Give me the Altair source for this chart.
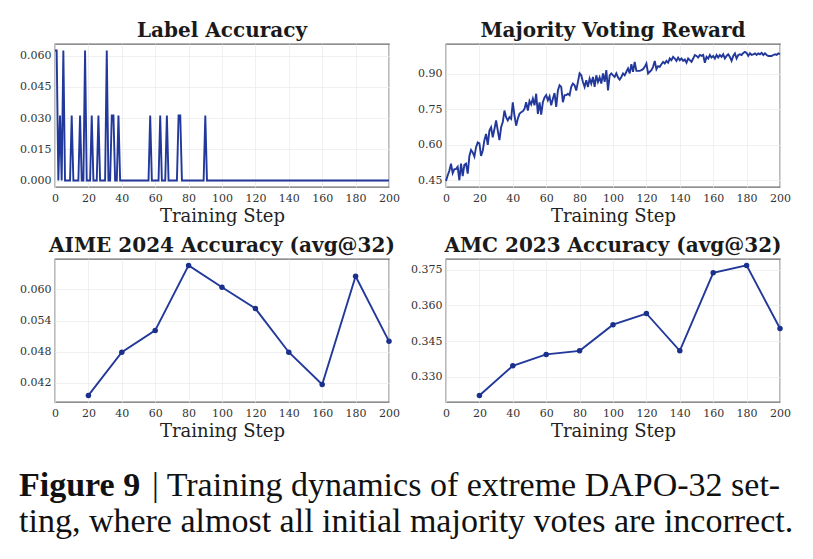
import altair as alt
import pandas as pd

# ---- data ----
# Label accuracy: non-zero steps and their values (all other steps are 0)
label_steps_nonzero = [0, 1, 3, 5, 10, 15, 18, 22, 26, 31, 34, 35, 38, 57, 63, 67, 74, 75, 90]
label_values_nonzero = [0.0625, 0.0625, 0.03125, 0.0625, 0.03125, 0.03125, 0.0625, 0.03125,
                        0.03125, 0.0625, 0.03125, 0.03125, 0.03125, 0.03125, 0.03125,
                        0.03125, 0.03125, 0.03125, 0.03125]

# Majority voting reward, steps 0..200
reward_values = [
    0.447, 0.470, 0.490, 0.520, 0.480, 0.497, 0.497, 0.507, 0.450, 0.520,
    0.468, 0.515, 0.520, 0.478, 0.553, 0.578, 0.568, 0.550, 0.590, 0.610,
    0.606, 0.553, 0.575, 0.620, 0.646, 0.600, 0.660, 0.674, 0.632, 0.667,
    0.703, 0.660, 0.620, 0.674, 0.696, 0.745, 0.717, 0.703, 0.717, 0.710,
    0.780, 0.724, 0.681, 0.710, 0.731, 0.738, 0.742, 0.752, 0.780, 0.745,
    0.785, 0.771, 0.795, 0.767, 0.816, 0.731, 0.780, 0.728, 0.780, 0.800,
    0.810, 0.788, 0.805, 0.767, 0.795, 0.819, 0.760, 0.830, 0.852, 0.845,
    0.780, 0.810, 0.810, 0.816, 0.810, 0.845, 0.859, 0.852, 0.830, 0.866,
    0.902, 0.894, 0.866, 0.845, 0.873, 0.845, 0.880, 0.859, 0.887, 0.845,
    0.894, 0.866, 0.885, 0.859, 0.902, 0.866, 0.916, 0.830, 0.894, 0.902,
    0.894, 0.887, 0.902, 0.885, 0.876, 0.887, 0.902, 0.894, 0.909, 0.923,
    0.902, 0.941, 0.909, 0.951, 0.913, 0.913, 0.913, 0.916, 0.920, 0.930,
    0.944, 0.902, 0.909, 0.916, 0.930, 0.955, 0.920, 0.933, 0.930, 0.941,
    0.951, 0.944, 0.955, 0.947, 0.965, 0.958, 0.972, 0.965, 0.955, 0.969,
    0.958, 0.965, 0.955, 0.961, 0.947, 0.965, 0.958, 0.951, 0.965, 0.980,
    0.976, 0.969, 0.980, 0.976, 0.980, 0.947, 0.972, 0.965, 0.980, 0.969,
    0.976, 0.965, 0.980, 0.969, 0.980, 0.972, 0.983, 0.965, 0.976, 0.983,
    0.972, 0.955, 0.976, 0.987, 0.965, 0.980, 0.983, 0.980, 0.989, 0.993,
    0.989, 0.976, 0.987, 0.980, 0.983, 0.987, 0.980, 0.987, 0.983, 0.989,
    0.980, 0.987, 0.980, 0.976, 0.976, 0.976, 0.980, 0.983, 0.980, 0.987,
    0.983,
]

# Evaluation checkpoints
eval_steps = [20, 40, 60, 80, 100, 120, 140, 160, 180, 200]
aime_values = [0.0396, 0.0479, 0.0521, 0.0646, 0.0604, 0.0563, 0.0479, 0.0417, 0.0625, 0.0500]
amc_values = [0.3221, 0.3346, 0.3394, 0.3409, 0.3519, 0.3566, 0.3409, 0.3737, 0.3768, 0.3503]

x_ticks = [0, 20, 40, 60, 80, 100, 120, 140, 160, 180, 200]

caption_bold = "Figure 9"
caption_rest = "| Training dynamics of extreme DAPO-32 set-"
caption_line2 = "ting, where almost all initial majority votes are incorrect."

# ---- tables ----
label_map = dict(zip(label_steps_nonzero, label_values_nonzero))
label_df = pd.DataFrame({
    "step": list(range(0, 201)),
    "value": [label_map.get(s, 0.0) for s in range(0, 201)],
})
reward_df = pd.DataFrame({"step": list(range(len(reward_values))), "value": reward_values})
aime_df = pd.DataFrame({"step": eval_steps, "value": aime_values})
amc_df = pd.DataFrame({"step": eval_steps, "value": amc_values})

# ---- styling ----
LINE = "#22389a"
SERIF = "DejaVu Serif"
W, H = 334, 143
FRAME = alt.ViewBackground(stroke="#6b6b6b", strokeWidth=1.3, fill="white")


def x_enc():
    return alt.X(
        "step:Q",
        scale=alt.Scale(domain=[0, 200], nice=False, zero=False),
        axis=alt.Axis(values=x_ticks, title="Training Step", format="d"),
    )


def y_enc(domain, ticks, fmt):
    return alt.Y(
        "value:Q",
        scale=alt.Scale(domain=domain, nice=False, zero=False),
        axis=alt.Axis(values=ticks, format=fmt, title=None),
    )


def line_panel(df, title, domain, ticks, fmt, points=False):
    base = alt.Chart(df).encode(x=x_enc(), y=y_enc(domain, ticks, fmt))
    layers = [base.mark_line(color=LINE, strokeWidth=1.9, clip=False)]
    if points:
        layers.append(base.mark_circle(color="#1b2f8c", size=30, opacity=1, clip=False))
    return alt.layer(*layers).properties(
        width=W, height=H, view=FRAME,
        title=alt.TitleParams(title, font=SERIF, fontSize=20, fontWeight="bold",
                              color="#1a1a1a", offset=3),
    )


p1 = line_panel(label_df, "Label Accuracy", [-0.003125, 0.065625],
                [0, 0.015, 0.03, 0.045, 0.06], ".3f")
p2 = line_panel(reward_df, "Majority Voting Reward", [0.4215, 1.0265],
                [0.45, 0.6, 0.75, 0.9], ".2f")
p3 = line_panel(aime_df, "AIME 2024 Accuracy (avg@32)", [0.03833, 0.06583],
                [0.042, 0.048, 0.054, 0.060], ".3f", points=True)
p4 = line_panel(amc_df, "AMC 2023 Accuracy (avg@32)", [0.3194, 0.3795],
                [0.330, 0.345, 0.360, 0.375], ".3f", points=True)

# ---- caption ----
CAP_FONT = "Liberation Serif"
CAP_SIZE = 34
cap_a = alt.Chart(pd.DataFrame({"t": [caption_bold]})).mark_text(
    align="left", baseline="alphabetic", font=CAP_FONT, fontSize=CAP_SIZE,
    fontWeight="bold", color="#111111",
).encode(text="t:N", x=alt.value(-36), y=alt.value(45))
cap_b = alt.Chart(pd.DataFrame({"t": [caption_rest]})).mark_text(
    align="left", baseline="alphabetic", font=CAP_FONT, fontSize=CAP_SIZE, color="#111111",
).encode(text="t:N", x=alt.value(97), y=alt.value(45))
cap_c = alt.Chart(pd.DataFrame({"t": [caption_line2]})).mark_text(
    align="left", baseline="alphabetic", font=CAP_FONT, fontSize=CAP_SIZE, color="#111111",
).encode(text="t:N", x=alt.value(-36), y=alt.value(81))
caption = alt.layer(cap_a, cap_b, cap_c).properties(
    width=700, height=86, view=alt.ViewBackground(stroke="transparent"))

top = alt.hconcat(p1, p2, spacing=57, bounds="flush")
bottom = alt.hconcat(p3, p4, spacing=57, bounds="flush")

chart = alt.vconcat(top, bottom, caption, spacing=9).properties(
    padding={"left": 18, "top": 20, "right": 5, "bottom": 5},
    background="white",
).configure_axis(
    labelFont=SERIF, labelFontSize=11, labelColor="#333333", labelPadding=4,
    labelFlush=False, ticks=False, domain=False,
    grid=True, gridColor="#ececec", gridWidth=0.8,
    titleFont=SERIF, titleFontSize=18, titleFontWeight="normal", titleColor="#222222",
    titlePadding=4,
).configure_axisX(labelPadding=5)

chart.save("out.html", embed_options={"renderer": "svg", "actions": False})
